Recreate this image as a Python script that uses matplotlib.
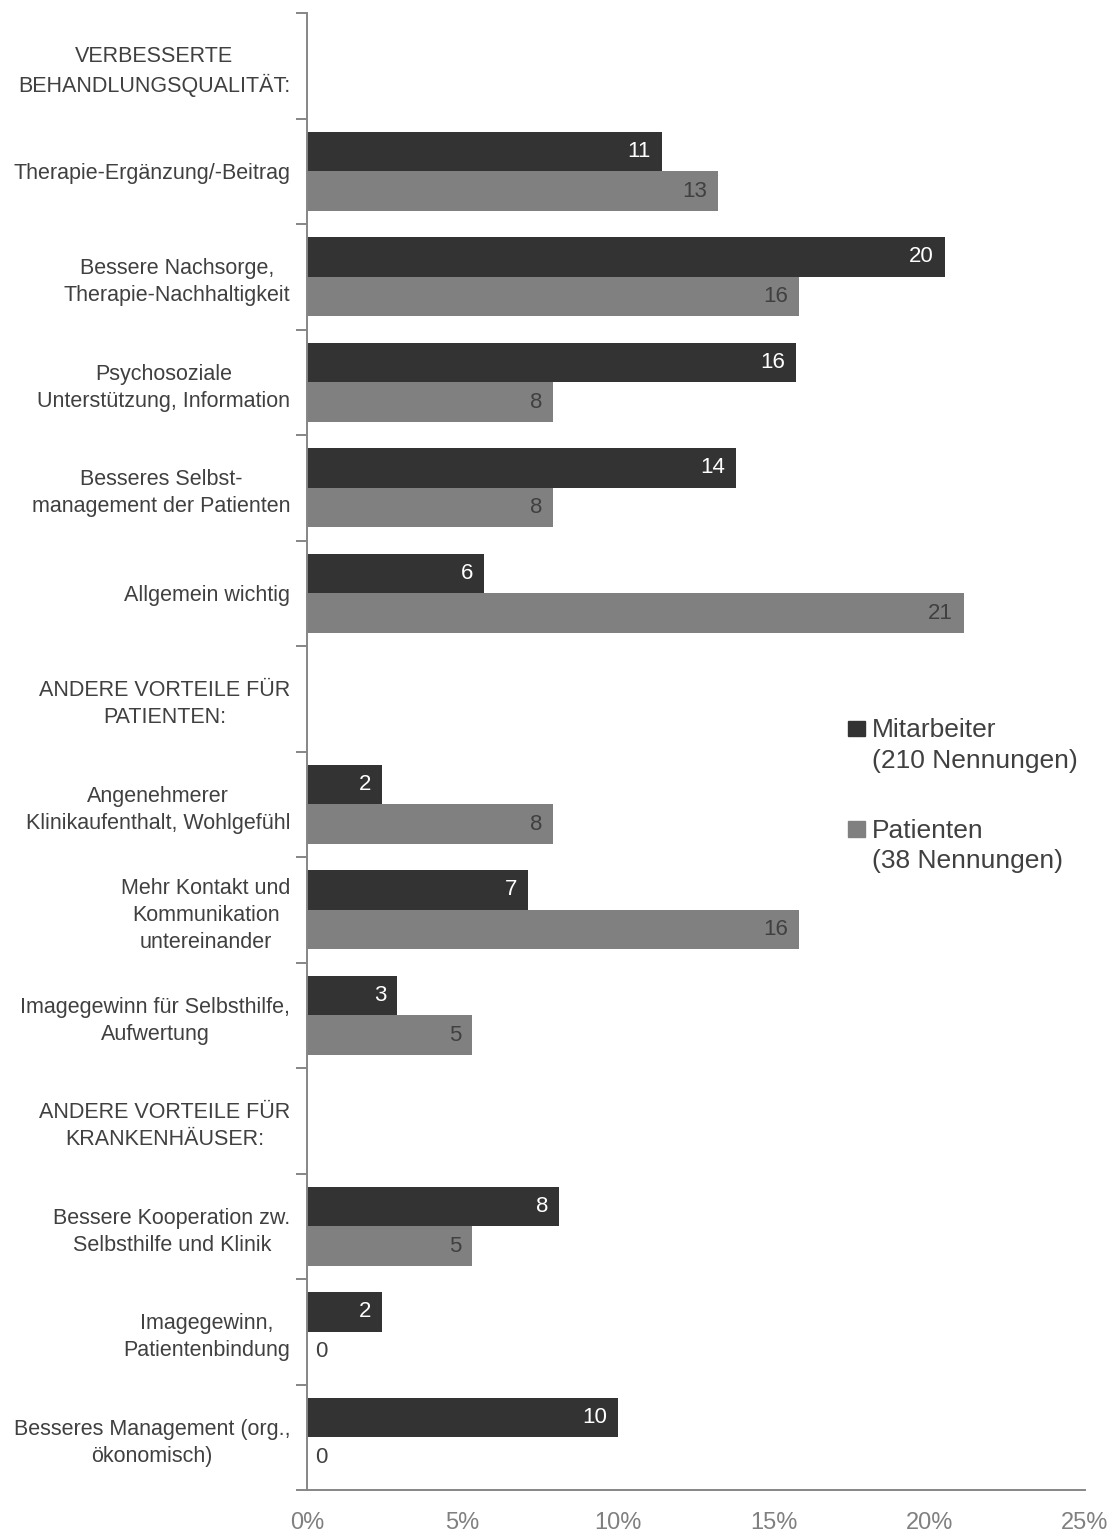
import numpy as np
import matplotlib.pyplot as plt
from matplotlib.patches import Rectangle

plt.rcParams['font.family'] = ['Liberation Sans', 'DejaVu Sans']

rows = [
    "VERBESSERTE\nBEHANDLUNGSQUALITÄT:",
    "Therapie-Ergänzung/-Beitrag",
    "Bessere Nachsorge,\nTherapie-Nachhaltigkeit",
    "Psychosoziale\nUnterstützung, Information",
    "Besseres Selbst-\nmanagement der Patienten",
    "Allgemein wichtig",
    "ANDERE VORTEILE FÜR\nPATIENTEN:",
    "Angenehmerer\nKlinikaufenthalt, Wohlgefühl",
    "Mehr Kontakt und\nKommunikation\nuntereinander",
    "Imagegewinn für Selbsthilfe,\nAufwertung",
    "ANDERE VORTEILE FÜR\nKRANKENHÄUSER:",
    "Bessere Kooperation zw.\nSelbsthilfe und Klinik",
    "Imagegewinn,\nPatientenbindung",
    "Besseres Management (org.,\nökonomisch)",
]
header_rows = [0, 6, 10]

# percent of mentions
mitarbeiter = [11.4, 20.5, 15.7, 13.8, 5.7, 2.4, 7.1, 2.9, 8.1, 2.4, 10.0]
patienten = [13.2, 15.8, 7.9, 7.9, 21.1, 7.9, 15.8, 5.3, 5.3, 0.0, 0.0]
mitarbeiter_labels = [11, 20, 16, 14, 6, 2, 7, 3, 8, 2, 10]
patienten_labels = [13, 16, 8, 8, 21, 8, 16, 5, 5, 0, 0]

legend_labels = ["Mitarbeiter\n(210 Nennungen)", "Patienten\n(38 Nennungen)"]
x_ticks = [0, 5, 10, 15, 20, 25]

dark = "#333333"
grey = "#808080"
axis_col = "#868686"
text_col = "#404040"

bar_rows = np.array([i for i in range(len(rows)) if i not in header_rows])
h = 0.375

fig = plt.figure(figsize=(11.16, 15.35), dpi=100)
ax = fig.add_axes([307 / 1116, 1 - 1490 / 1535, 778 / 1116, 1477 / 1535])

ax.barh(bar_rows - h / 2, mitarbeiter, height=h, color=dark)
ax.barh(bar_rows + h / 2, patienten, height=h, color=grey)

for y, v, lab in zip(bar_rows, mitarbeiter, mitarbeiter_labels):
    ax.text(v - 0.35, y - h / 2, str(lab), ha="right", va="center",
            color="white", fontsize=16)
for y, v, lab in zip(bar_rows, patienten, patienten_labels):
    if v > 0:
        ax.text(v - 0.35, y + h / 2, str(lab), ha="right", va="center",
                color=text_col, fontsize=16)
    else:
        ax.text(0.25, y + h / 2, str(lab), ha="left", va="center",
                color=text_col, fontsize=16)

ax.set_ylim(len(rows) - 0.5, -0.5)
ax.set_xlim(0, 25)

ax.set_yticks(np.arange(len(rows)))
ax.set_yticklabels(rows, fontsize=15.5, color=text_col)
for t in ax.get_yticklabels():
    t.set_multialignment("center")
    t.set_linespacing(1.38)
ax.set_yticks(np.arange(len(rows) + 1) - 0.5, minor=True)
ax.tick_params(axis="y", which="major", length=0, pad=12)
ax.tick_params(axis="y", which="minor", length=8, width=1.4, color=axis_col)

ax.set_xticks(x_ticks)
ax.set_xticklabels([f"{t}%" for t in x_ticks], fontsize=17, color=grey)
ax.tick_params(axis="x", length=0, pad=16)

for s in ["top", "right"]:
    ax.spines[s].set_visible(False)
for s in ["left", "bottom"]:
    ax.spines[s].set_color(axis_col)
    ax.spines[s].set_linewidth(1.4)

# legend: square aligned with the first line of each label
for yy, col, lab in zip([0.5156, 0.4475], [dark, grey], legend_labels):
    ax.add_patch(Rectangle((0.695, yy - 0.0052), 0.022, 0.0104,
                           transform=ax.transAxes, color=col, clip_on=False))
    ax.text(0.726, yy + 0.0068, lab, transform=ax.transAxes, ha="left",
            va="top", fontsize=19, color=text_col, linespacing=1.33)

fig.savefig("out.png", dpi=100)
